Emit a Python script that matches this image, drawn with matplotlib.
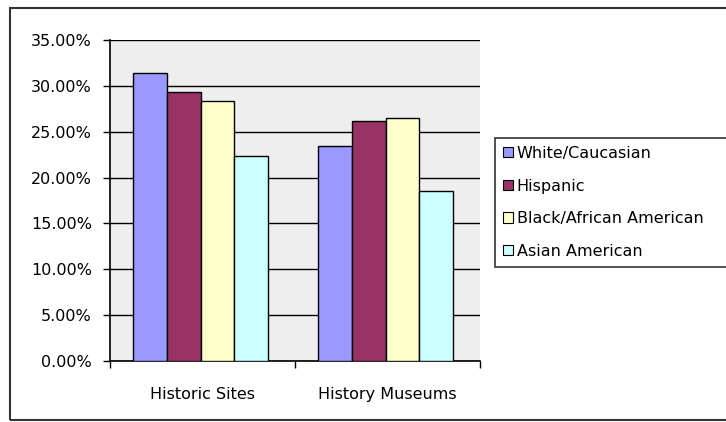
import numpy as np
import matplotlib.pyplot as plt
from matplotlib.patches import Rectangle
from matplotlib.ticker import FuncFormatter

plt.rcParams['font.family'] = ['DejaVu Sans']

# data
categories = ['Historic Sites', 'History Museums']
groups = ['White/Caucasian', 'Hispanic', 'Black/African American', 'Asian American']
values = [
    [31.4, 23.4],   # White/Caucasian
    [29.3, 26.2],   # Hispanic
    [28.3, 26.5],   # Black/African American
    [22.4, 18.5],   # Asian American
]
colors = ['#9999FF', '#993366', '#FFFFCC', '#CCFFFF']

fig = plt.figure(figsize=(7.26, 4.22), dpi=100)
ax = fig.add_axes([110/726, 1 - 361/422, 370/726, 321/422])
ax.set_facecolor('#EEEEEE')

x = np.arange(len(categories))
w = 0.182
for i, (g, v) in enumerate(zip(groups, values)):
    ax.bar(x + (i - 1.5) * w - 0.01, v, w, color=colors[i], edgecolor='black',
           linewidth=1.0, label=g, zorder=3)

ax.set_xlim(-0.5, 1.5)
ax.set_ylim(0, 35)
ax.set_yticks(np.arange(0, 36, 5))
ax.yaxis.set_major_formatter(FuncFormatter(lambda v, p: '%.2f%%' % v))
ax.yaxis.grid(True, color='black', linewidth=1.0, zorder=0)
ax.set_axisbelow(True)

ax.set_xticks(x)
ax.set_xticklabels(categories)
ax.set_xticks([-0.5, 0.5, 1.5], minor=True)
ax.tick_params(axis='x', which='major', length=0, pad=19, labelsize=11.5)
ax.tick_params(axis='x', which='minor', length=5, width=1, direction='out')
ax.tick_params(axis='y', length=5, width=1, direction='out', pad=8, labelsize=11.5)

for s in ['top', 'right']:
    ax.spines[s].set_visible(False)
ax.spines['left'].set_linewidth(1.2)
ax.spines['bottom'].set_linewidth(1.2)

# legend box runs off the right edge like in the original
top = 1 - 138/422
bot = 1 - 263/422
leg = fig.legend(loc='upper left', bbox_to_anchor=(495/726, bot, 0.4, top - bot),
                 mode='expand', fontsize=11.5, frameon=True, fancybox=False,
                 edgecolor='black', handlelength=0.6, handleheight=0.6,
                 handletextpad=0.25, labelspacing=1.1, borderpad=0.5,
                 borderaxespad=0)
leg.get_frame().set_linewidth(1.2)
for h in leg.legend_handles:
    h.set_linewidth(0.8)

# outer chart frame
fig.patches.append(Rectangle((10/726, 2/422), 1.2, 1 - 10/422,
                             transform=fig.transFigure, fill=False,
                             edgecolor='#333333', linewidth=1.5, clip_on=False))

plt.savefig('out.png', dpi=100)
